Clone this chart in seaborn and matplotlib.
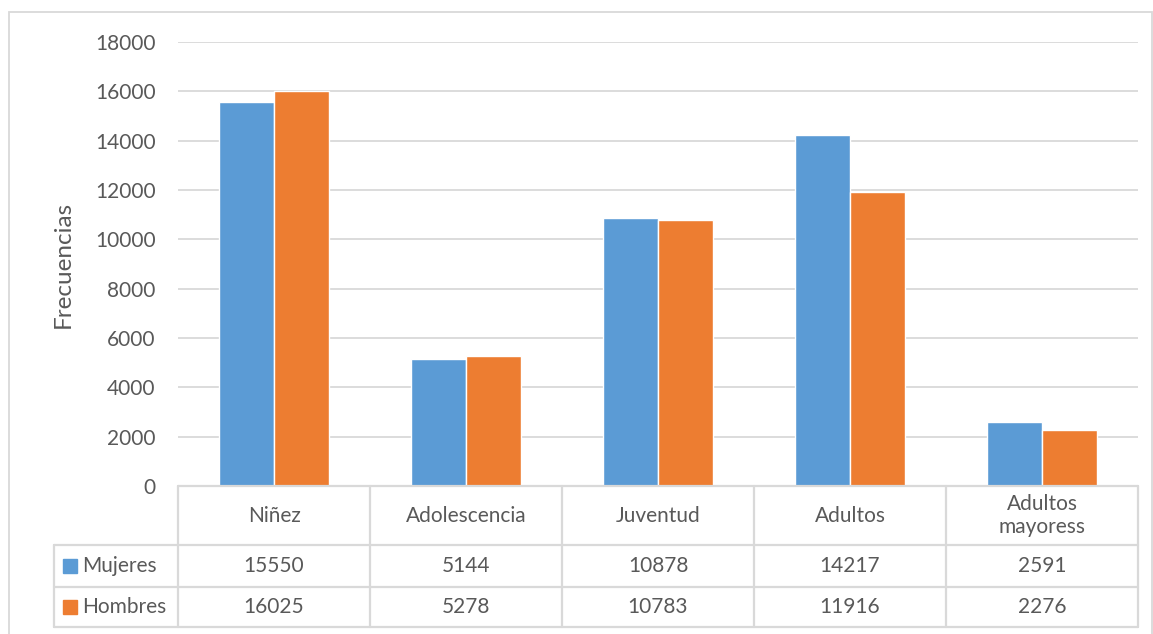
import matplotlib
matplotlib.use("Agg")
import matplotlib.pyplot as plt
import matplotlib.transforms as mtransforms
from matplotlib.patches import Rectangle
import pandas as pd
import seaborn as sns

# Data
categories = ["Niñez", "Adolescencia", "Juventud", "Adultos", "Adultos\nmayoress"]
mujeres = [15550, 5144, 10878, 14217, 2591]
hombres = [16025, 5278, 10783, 11916, 2276]
series_names = ["Mujeres", "Hombres"]
colors = ["#5B9BD5", "#ED7D31"]
yticks = [0, 2000, 4000, 6000, 8000, 10000, 12000, 14000, 16000, 18000]

TEXT = "#595959"
GRID = "#D9D9D9"
FS = 15

sns.set_style("white")
plt.rcParams["font.family"] = ["Lato", "DejaVu Sans"]

df = pd.DataFrame({
    "categoria": categories * 2,
    "serie": [series_names[0]] * len(categories) + [series_names[1]] * len(categories),
    "valor": mujeres + hombres,
})

W, H = 1153, 634
fig = plt.figure(figsize=(W / 100, H / 100), dpi=100)
ax = fig.add_axes([178 / W, (H - 486) / H, 960 / W, 444 / H])

sns.barplot(data=df, x="categoria", y="valor", hue="serie", palette=colors,
            width=0.575, saturation=1, ax=ax, legend=False)

ax.set_xlim(-0.5, len(categories) - 0.5)
ax.set_ylim(0, 18000)
ax.set_yticks(yticks)
ax.set_yticklabels([str(t) for t in yticks], fontsize=FS, color=TEXT)
ax.tick_params(axis="y", length=0, pad=16)
ax.set_xticks([])
ax.set_xlabel("")
ax.set_ylabel("Frecuencias", fontsize=17.5, color=TEXT)
ax.yaxis.set_label_coords(-0.109, 0.5)
for s in ax.spines.values():
    s.set_visible(False)
ax.grid(axis="y", color=GRID, linewidth=1.3)
ax.set_axisbelow(True)

# data table below the plot
blend = mtransforms.blended_transform_factory(ax.transData, ax.transAxes)
r0, r1, r2, r3 = 0.0, -0.1329, -0.2275, -0.3176
leg_left = (54 - 178) / 960
n = len(categories)
lkw = dict(color=GRID, linewidth=1.6, clip_on=False)

# horizontal lines
ax.plot([-0.5, n - 0.5], [r0, r0], transform=blend, **lkw)
ax.plot([leg_left, 1], [r1, r1], transform=ax.transAxes, **lkw)
ax.plot([leg_left, 1], [r2, r2], transform=ax.transAxes, **lkw)
ax.plot([leg_left, 1], [r3, r3], transform=ax.transAxes, **lkw)
# vertical lines
for i in range(n + 1):
    ax.plot([i - 0.5, i - 0.5], [r0, r3], transform=blend, **lkw)
ax.plot([leg_left, leg_left], [r1, r3], transform=ax.transAxes, **lkw)

for i, cat in enumerate(categories):
    ax.text(i, (r0 + r1) / 2, cat, transform=blend, ha="center", va="center",
            fontsize=FS, color=TEXT, linespacing=1.2)
    ax.text(i, (r1 + r2) / 2, str(mujeres[i]), transform=blend, ha="center",
            va="center", fontsize=FS, color=TEXT)
    ax.text(i, (r2 + r3) / 2, str(hombres[i]), transform=blend, ha="center",
            va="center", fontsize=FS, color=TEXT)

sq_w = 14 / 960
sq_h = 14 / 444
for name, col, (top, bot) in zip(series_names, colors, [(r1, r2), (r2, r3)]):
    yc = (top + bot) / 2
    ax.add_patch(Rectangle((leg_left + 9 / 960, yc - sq_h / 2), sq_w, sq_h,
                           transform=ax.transAxes, color=col, clip_on=False))
    ax.text(leg_left + 28 / 960, yc, name, transform=ax.transAxes,
            ha="left", va="center", fontsize=FS, color=TEXT)

# outer chart border
fig.add_artist(Rectangle((9 / W, -0.01), (W - 10) / W, (H - 12) / H + 0.01,
                         transform=fig.transFigure, fill=False,
                         edgecolor=GRID, linewidth=1.3))

fig.savefig("out.png", dpi=100)
